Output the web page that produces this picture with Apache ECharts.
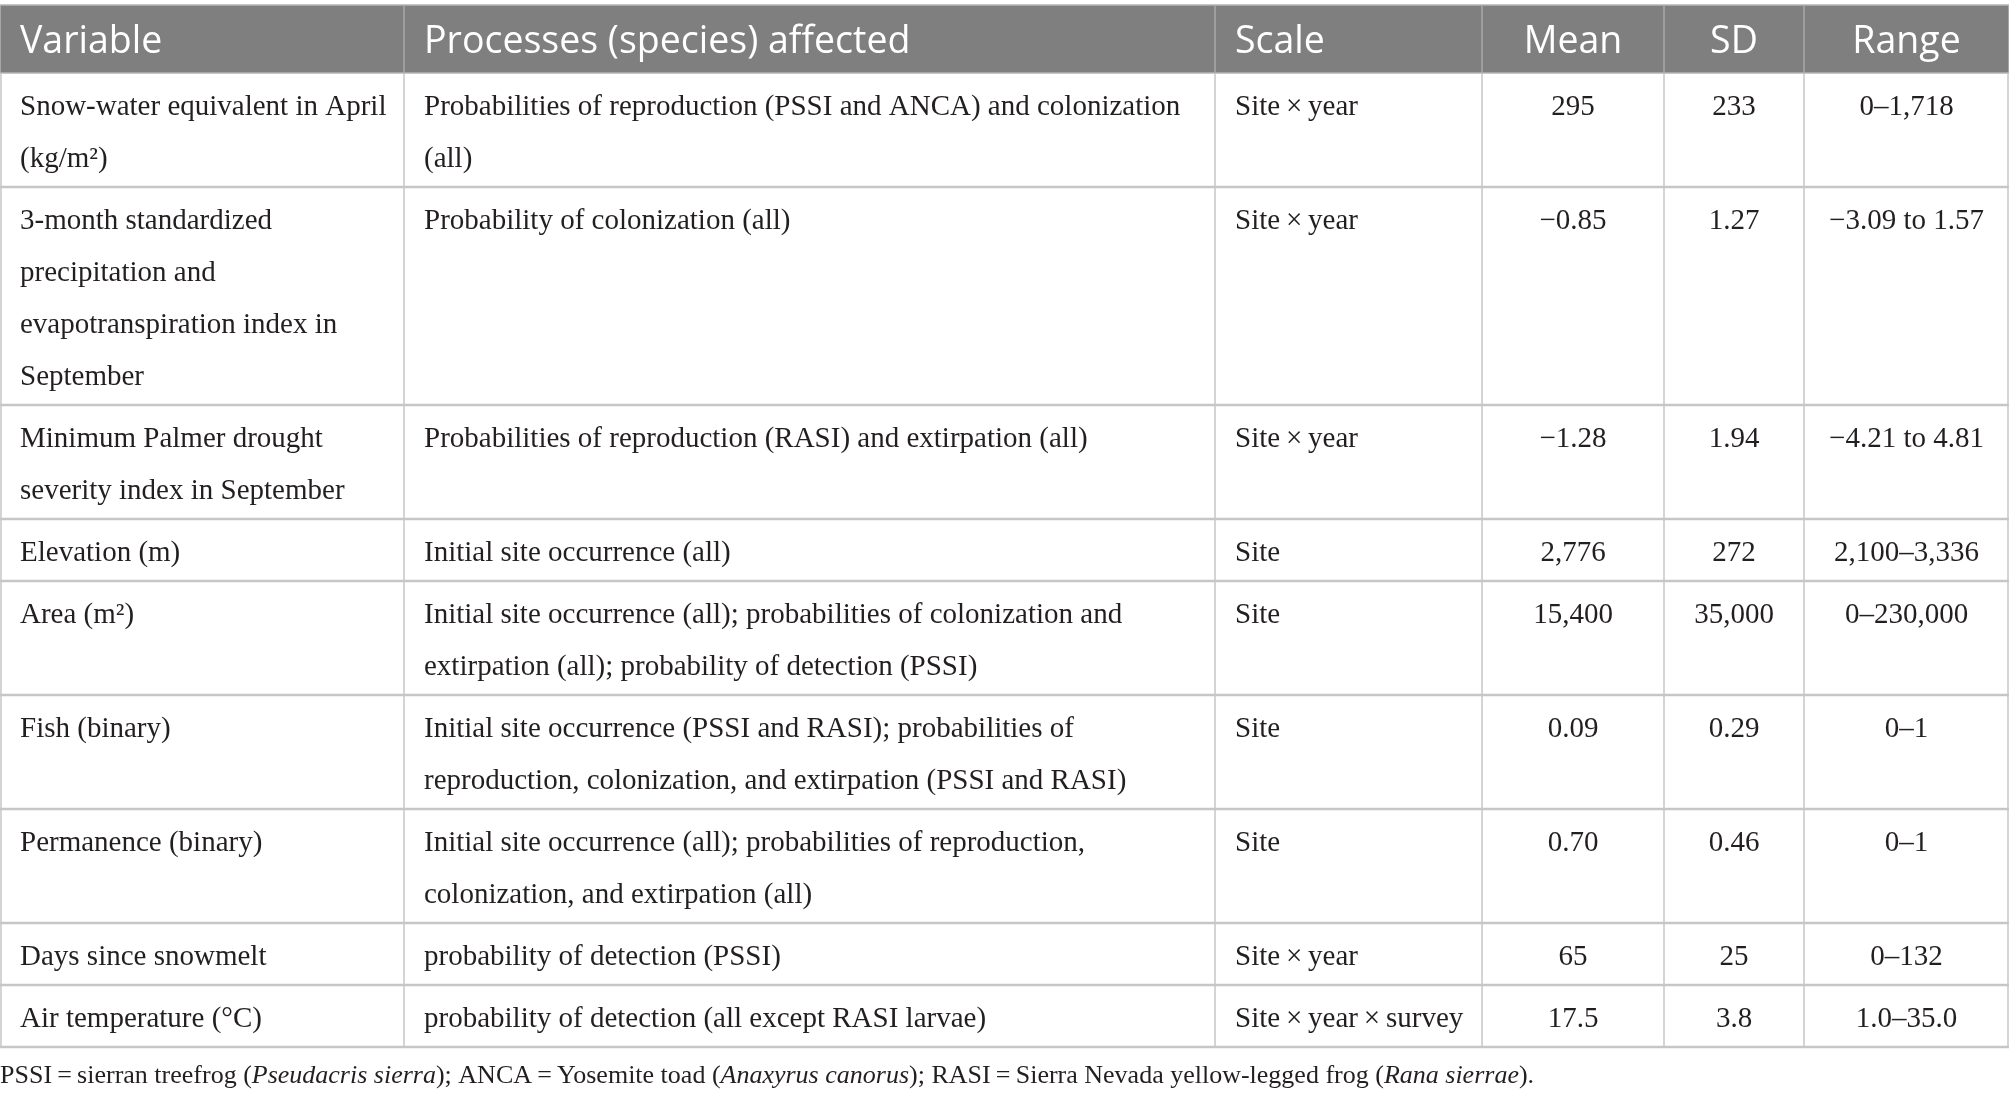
<!DOCTYPE html>
<html lang="en">
<head>
    <meta charset="UTF-8">
    <title>Covariates table</title>
    <script src="https://cdn.jsdelivr.net/npm/echarts@6/dist/echarts.min.js"></script>
    <style>
        * { margin: 0; padding: 0; box-sizing: border-box; }
        body { background: #fff; }
        #table { width: 2009px; height: 1095px; }
    </style>
</head>
<body>
    <div id="table"></div>

    <script>
        // table content
        const headers = ['Variable', 'Processes (species) affected', 'Scale', 'Mean', 'SD', 'Range'];
        const variables = [
            'Snow-water equivalent in April\n(kg/m\u00b2)',
            '3-month standardized\nprecipitation and\nevapotranspiration index in\nSeptember',
            'Minimum Palmer drought\nseverity index in September',
            'Elevation (m)',
            'Area (m\u00b2)',
            'Fish (binary)',
            'Permanence (binary)',
            'Days since snowmelt',
            'Air temperature (\u00b0C)'
        ];
        const processes = [
            'Probabilities of reproduction (PSSI and ANCA) and colonization\n(all)',
            'Probability of colonization (all)',
            'Probabilities of reproduction (RASI) and extirpation (all)',
            'Initial site occurrence (all)',
            'Initial site occurrence (all); probabilities of colonization and\nextirpation (all); probability of detection (PSSI)',
            'Initial site occurrence (PSSI and RASI); probabilities of\nreproduction, colonization, and extirpation (PSSI and RASI)',
            'Initial site occurrence (all); probabilities of reproduction,\ncolonization, and extirpation (all)',
            'probability of detection (PSSI)',
            'probability of detection (all except RASI larvae)'
        ];
        const scales = [
            'Site\u2009\u00d7\u2009year', 'Site\u2009\u00d7\u2009year', 'Site\u2009\u00d7\u2009year',
            'Site', 'Site', 'Site', 'Site',
            'Site\u2009\u00d7\u2009year', 'Site\u2009\u00d7\u2009year\u2009\u00d7\u2009survey'
        ];
        const means = ['295', '\u22120.85', '\u22121.28', '2,776', '15,400', '0.09', '0.70', '65', '17.5'];
        const sds = ['233', '1.27', '1.94', '272', '35,000', '0.29', '0.46', '25', '3.8'];
        const ranges = ['0\u20131,718', '\u22123.09 to 1.57', '\u22124.21 to 4.81', '2,100\u20133,336',
            '0\u2013230,000', '0\u20131', '0\u20131', '0\u2013132', '1.0\u201335.0'];
        const footnote = [
            ['PSSI\u2009=\u2009sierran treefrog (', 'n'], ['Pseudacris sierra', 'i'],
            ['); ANCA\u2009=\u2009Yosemite toad (', 'n'], ['Anaxyrus canorus', 'i'],
            ['); RASI\u2009=\u2009Sierra Nevada yellow-legged frog (', 'n'], ['Rana sierrae', 'i'],
            [').', 'n']
        ];

        // layout
        const W = 2009, H = 1095;
        const colEdges = [0, 404, 1215, 1482, 1664, 1804, 2009];
        const colAlign = ['left', 'left', 'left', 'center', 'center', 'center'];
        const padX = 20;
        const headTop = 5, headBottom = 73;
        const lineH = 52, rowPad = 10;
        const serif = '"Liberation Serif", "DejaVu Serif", serif';
        const sans = '"Open Sans", "Noto Sans", sans-serif';
        const bodyColor = '#231f20';
        const gridColor = '#c6c6c6';

        const columns = [variables, processes, scales, means, sds, ranges];
        const nLines = variables.map((_, r) => Math.max(...columns.map(c => c[r].split('\n').length)));
        const rowTops = [];
        let y = headBottom;
        nLines.forEach(n => { rowTops.push(y); y += rowPad + lineH * n; });
        rowTops.push(y);

        const rowData = [[-1, headTop, headBottom]].concat(
            nLines.map((_, r) => [r, rowTops[r], rowTops[r + 1]]));

        function textX(c) {
            return colAlign[c] === 'left' ? colEdges[c] + padX : (colEdges[c] + colEdges[c + 1]) / 2;
        }

        function renderRow(params, api) {
            const r = api.value(0);
            const p0 = api.coord([0, api.value(1)]);
            const p1 = api.coord([W, api.value(2)]);
            const top = p0[1], bottom = p1[1];
            const kids = [];
            if (r < 0) {
                kids.push({ type: 'rect', shape: { x: p0[0], y: top, width: p1[0] - p0[0], height: bottom - top },
                    style: { fill: '#7f7f7f', stroke: '#b5b5b5', lineWidth: 1.5 } });
                for (let c = 1; c < colEdges.length - 1; c++) {
                    const x = api.coord([colEdges[c], 0])[0];
                    kids.push({ type: 'line', shape: { x1: x, y1: top, x2: x, y2: bottom },
                        style: { stroke: '#a9a9a9', lineWidth: 1.5 } });
                }
                headers.forEach((h, c) => {
                    kids.push({ type: 'text', x: api.coord([textX(c), 0])[0], y: (top + bottom) / 2 + 3,
                        style: { text: h, fill: '#ffffff', font: '37.5px ' + sans,
                            align: colAlign[c], verticalAlign: 'middle' } });
                });
            } else {
                columns.forEach((col, c) => {
                    kids.push({ type: 'text', x: api.coord([textX(c), 0])[0], y: top + 8.5,
                        style: { text: col[r], fill: bodyColor, font: '29px ' + serif,
                            align: colAlign[c], verticalAlign: 'top', lineHeight: lineH } });
                });
                for (let c = 0; c < colEdges.length; c++) {
                    const x = Math.min(Math.max(api.coord([colEdges[c], 0])[0], 1), W - 1);
                    kids.push({ type: 'line', shape: { x1: x, y1: top, x2: x, y2: bottom },
                        style: { stroke: gridColor, lineWidth: 1.5 } });
                }
                kids.push({ type: 'line', shape: { x1: p0[0], y1: bottom, x2: p1[0], y2: bottom },
                    style: { stroke: gridColor, lineWidth: 2.5 } });
            }
            return { type: 'group', children: kids };
        }

        const chart = echarts.init(document.getElementById('table'));
        chart.setOption({
            animation: false,
            grid: { left: 0, right: 0, top: 0, bottom: 0 },
            xAxis: { type: 'value', min: 0, max: W, show: false },
            yAxis: { type: 'value', min: 0, max: H, inverse: true, show: false },
            title: {
                left: 0, top: 1063, padding: 0,
                text: footnote.map(([t, s]) => '{' + s + '|' + t + '}').join(''),
                textStyle: {
                    fontWeight: 'normal',
                    rich: {
                        n: { fontFamily: serif, fontSize: 26, fontWeight: 'normal', color: bodyColor },
                        i: { fontFamily: serif, fontSize: 26, fontWeight: 'normal', fontStyle: 'italic', color: bodyColor }
                    }
                }
            },
            series: [{
                type: 'custom',
                coordinateSystem: 'cartesian2d',
                renderItem: renderRow,
                data: rowData,
                silent: true
            }]
        });
    </script>
</body>
</html>
